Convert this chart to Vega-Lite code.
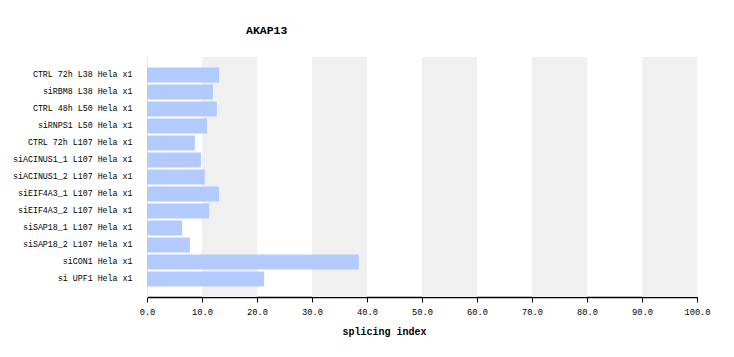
{
  "$schema": "https://vega.github.io/schema/vega-lite/v6.json",
  "width": 550,
  "height": 240,
  "autosize": "none",
  "padding": {"left": 147, "top": 57, "right": 37, "bottom": 60},
  "background": "white",
  "title": {
    "text": "AKAP13",
    "anchor": "start",
    "frame": "group",
    "dx": 99,
    "offset": 21,
    "font": "Liberation Mono",
    "fontSize": 11.5,
    "fontWeight": "bold",
    "color": "black"
  },
  "config": {"view": {"stroke": null}},
  "datasets": {
    "bands": [
      {"start": 10, "end": 20},
      {"start": 30, "end": 40},
      {"start": 50, "end": 60},
      {"start": 70, "end": 80},
      {"start": 90, "end": 100}
    ],
    "bars": [
      {"sample": "CTRL 72h L38 Hela x1", "value": 13.1},
      {"sample": "siRBM8 L38 Hela x1", "value": 12.0},
      {"sample": "CTRL 48h L50 Hela x1", "value": 12.7},
      {"sample": "siRNPS1 L50 Hela x1", "value": 10.9},
      {"sample": "CTRL 72h L107 Hela x1", "value": 8.7},
      {"sample": "siACINUS1_1 L107 Hela x1", "value": 9.8},
      {"sample": "siACINUS1_2 L107 Hela x1", "value": 10.5},
      {"sample": "siEIF4A3_1 L107 Hela x1", "value": 13.1},
      {"sample": "siEIF4A3_2 L107 Hela x1", "value": 11.3},
      {"sample": "siSAP18_1 L107 Hela x1", "value": 6.4},
      {"sample": "siSAP18_2 L107 Hela x1", "value": 7.8},
      {"sample": "siCON1 Hela x1", "value": 38.5},
      {"sample": "si UPF1 Hela x1", "value": 21.3}
    ]
  },
  "layer": [
    {
      "data": {"name": "bands"},
      "mark": {"type": "rect", "color": "#f0f0f0"},
      "encoding": {
        "x": {"field": "start", "type": "quantitative", "scale": {"domain": [0, 100], "nice": false}},
        "x2": {"field": "end"}
      }
    },
    {
      "data": {"name": "bars"},
      "mark": {"type": "bar", "color": "#b3caff"},
      "encoding": {
        "y": {
          "field": "sample",
          "type": "nominal",
          "sort": null,
          "scale": {"paddingInner": 0.12, "paddingOuter": 0.62},
          "axis": {
            "title": null,
            "ticks": false,
            "domain": true,
            "domainColor": "#e6e6e6",
            "domainWidth": 1,
            "labelPadding": 15,
            "labelFont": "Liberation Mono",
            "labelFontSize": 8.3,
            "labelColor": "black"
          }
        },
        "x": {
          "field": "value",
          "type": "quantitative",
          "scale": {"domain": [0, 100], "nice": false},
          "axis": {
            "title": "splicing index",
            "titleFont": "Liberation Mono",
            "titleFontSize": 10,
            "titleFontWeight": "bold",
            "titleColor": "black",
            "titleX": 237,
            "titleAlign": "center",
            "titlePadding": 11,
            "values": [0, 10, 20, 30, 40, 50, 60, 70, 80, 90, 100],
            "format": ".1f",
            "grid": false,
            "labelFlush": false,
            "labelOverlap": false,
            "domainColor": "black",
            "domainWidth": 1.5,
            "tickColor": "black",
            "tickSize": 5,
            "labelFont": "Liberation Mono",
            "labelFontSize": 8.7,
            "labelColor": "black",
            "labelPadding": 5
          }
        }
      }
    }
  ]
}
